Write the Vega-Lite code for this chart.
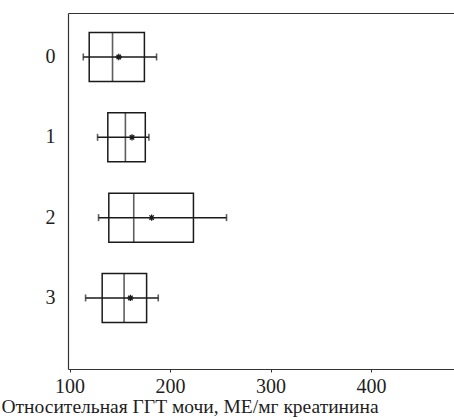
{
  "$schema": "https://vega.github.io/schema/vega-lite/v6.json",
  "autosize": "none",
  "padding": {"left": 68, "top": 13, "right": 0, "bottom": 51},
  "width": 386,
  "height": 356,
  "background": "white",
  "config": {
    "view": {"stroke": null},
    "axis": {"labelFont": "Liberation Serif", "titleFont": "Liberation Serif", "labelColor": "#1e1e1e", "titleColor": "#1e1e1e", "domainColor": "#333", "tickColor": "#333", "grid": false}
  },
  "data": {
    "values": [
      {"group": "0", "q1": 119.6, "median": 142.8, "q3": 174.5, "lo": 113.7, "hi": 186.6, "mean": 149.0},
      {"group": "1", "q1": 138.1, "median": 155.6, "q3": 175.4, "lo": 127.9, "hi": 179.0, "mean": 162.2},
      {"group": "2", "q1": 139.1, "median": 163.9, "q3": 223.3, "lo": 128.9, "hi": 256.2, "mean": 181.7},
      {"group": "3", "q1": 132.5, "median": 154.3, "q3": 176.7, "lo": 116.0, "hi": 188.3, "mean": 160.6}
    ]
  },
  "resolve": {"axis": {"x": "independent"}},
  "layer": [
    {
      "mark": {"type": "bar", "fill": "transparent", "stroke": "#1a1a1a", "strokeWidth": 1.5},
      "encoding": {
        "x": {"field": "q1", "type": "quantitative", "scale": {"domain": [98.5, 482.5], "nice": false, "zero": false},
          "axis": {"orient": "bottom", "values": [100, 200, 300, 400], "tickSize": 3, "tickWidth": 1, "domainWidth": 1.2, "labelFontSize": 20, "labelPadding": 4, "title": "Относительная ГГТ мочи, МЕ/мг креатинина", "titleFontSize": 19.5, "titleFontWeight": "normal", "titleAnchor": "start", "titleAlign": "left", "titleBaseline": "alphabetic", "titleX": -67, "titleY": 43}},
        "x2": {"field": "q3"},
        "y": {"field": "group", "type": "ordinal", "scale": {"type": "band", "paddingInner": 0.39, "paddingOuter": 0.411, "align": 0.295},
          "axis": {"title": null, "ticks": false, "labelFontSize": 20, "labelPadding": 13, "labelAngle": 0, "domainWidth": 1.2}}
      }
    },
    {
      "mark": {"type": "rule", "color": "#1a1a1a", "strokeWidth": 1.5},
      "encoding": {
        "x": {"field": "lo", "type": "quantitative",
          "axis": {"orient": "top", "labels": false, "ticks": true, "tickSize": 0, "values": [100], "title": null, "domain": true, "domainWidth": 1.2, "domainColor": "#333"}},
        "x2": {"field": "hi"},
        "y": {"field": "group", "type": "ordinal"}
      }
    },
    {
      "mark": {"type": "tick", "color": "#1a1a1a", "size": 49, "thickness": 1.6},
      "encoding": {
        "x": {"field": "median", "type": "quantitative", "axis": null},
        "y": {"field": "group", "type": "ordinal"}
      }
    },
    {
      "mark": {"type": "tick", "color": "#1a1a1a", "size": 7, "thickness": 1.6},
      "encoding": {
        "x": {"field": "lo", "type": "quantitative", "axis": null},
        "y": {"field": "group", "type": "ordinal"}
      }
    },
    {
      "mark": {"type": "tick", "color": "#1a1a1a", "size": 7, "thickness": 1.6},
      "encoding": {
        "x": {"field": "hi", "type": "quantitative", "axis": null},
        "y": {"field": "group", "type": "ordinal"}
      }
    },
    {
      "mark": {"type": "point", "shape": "M-1,0L1,0M0,-1L0,1M-0.7,-0.7L0.7,0.7M-0.7,0.7L0.7,-0.7", "filled": false, "stroke": "#1a1a1a", "strokeWidth": 1.3, "size": 40, "opacity": 1},
      "encoding": {
        "x": {"field": "mean", "type": "quantitative", "axis": null},
        "y": {"field": "group", "type": "ordinal"}
      }
    }
  ]
}
